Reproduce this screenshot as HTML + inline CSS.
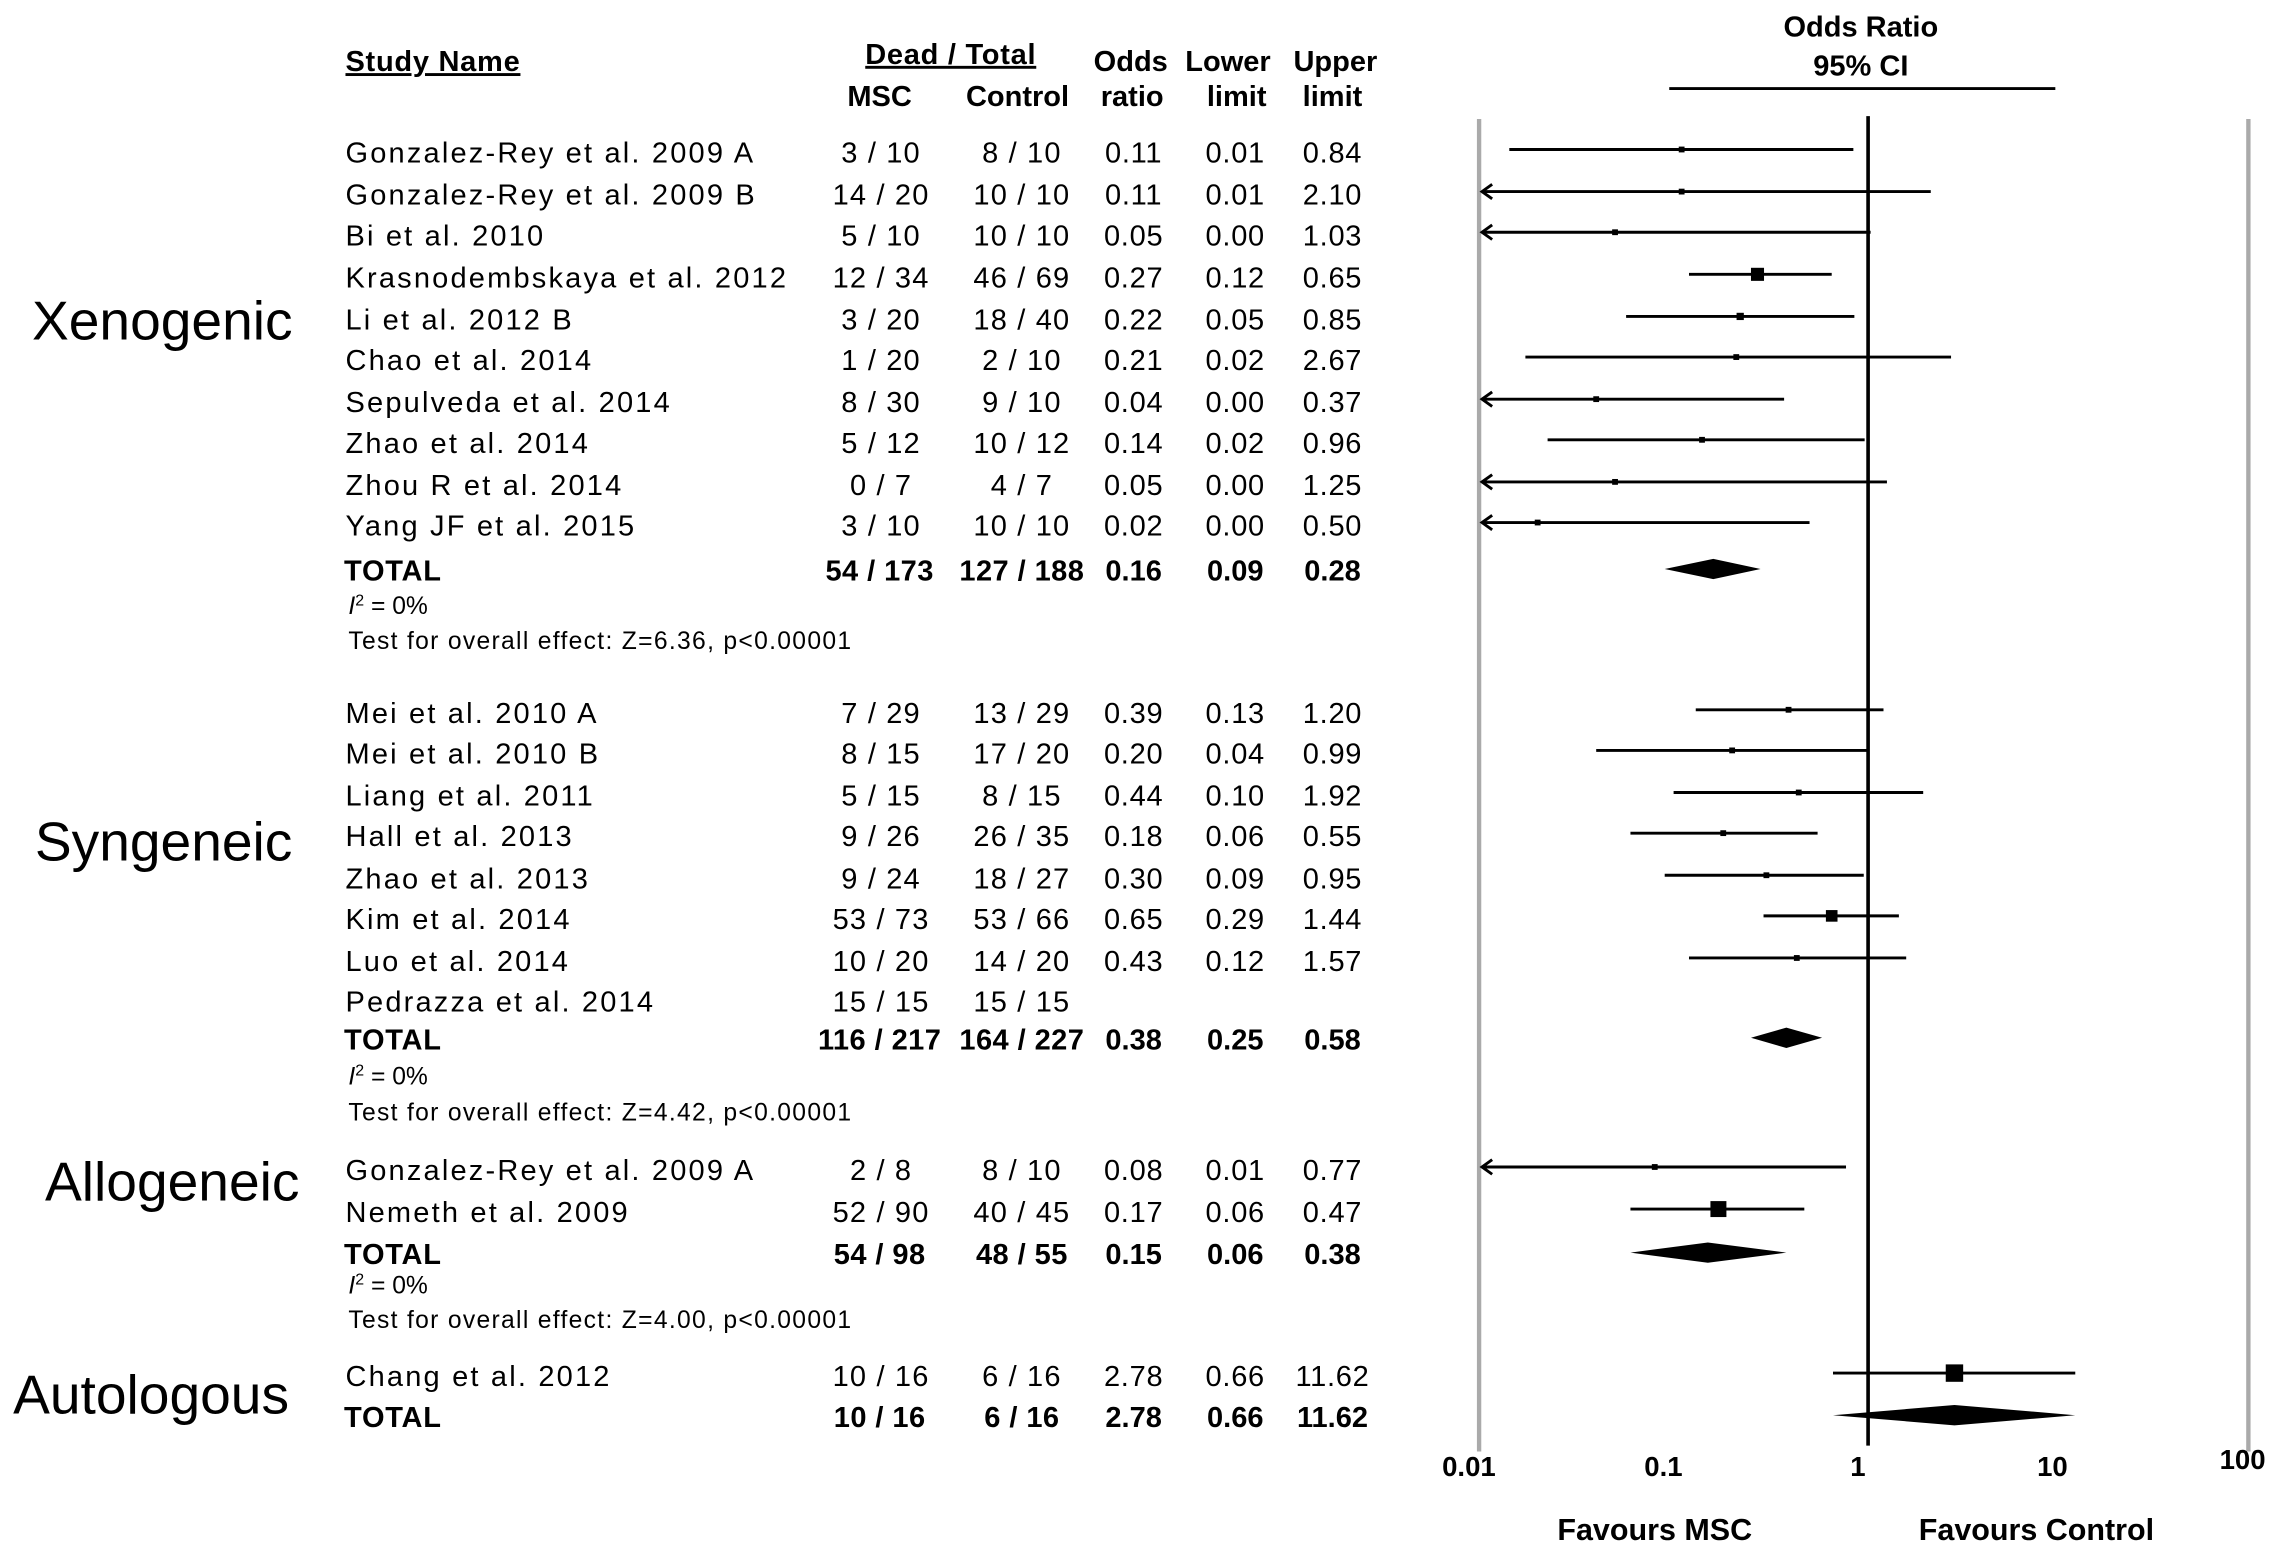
<!DOCTYPE html>
<html><head><meta charset="utf-8"><style>
html,body{margin:0;padding:0;background:#fff;}
svg{display:block;font-family:"Liberation Sans",Arial,sans-serif;}
</style></head><body>
<svg id="chart" width="2276" height="1548" viewBox="0 0 1568 1066.5" xmlns="http://www.w3.org/2000/svg">
<rect x="0" y="0" width="1568" height="1067" fill="#fff"/>
<g font-weight="bold" font-size="20" fill="#000">
<text x="238" y="49" text-decoration="underline" letter-spacing="0.5">Study Name</text>
<text x="655" y="44" text-anchor="middle" text-decoration="underline" letter-spacing="0.5">Dead / Total</text>
<text x="606" y="73" text-anchor="middle">MSC</text>
<text x="701" y="73" text-anchor="middle">Control</text>
<text x="779" y="49" text-anchor="middle">Odds</text>
<text x="780" y="73" text-anchor="middle">ratio</text>
<text x="846" y="49" text-anchor="middle">Lower</text>
<text x="852" y="73" text-anchor="middle">limit</text>
<text x="920" y="49" text-anchor="middle">Upper</text>
<text x="918" y="73" text-anchor="middle">limit</text>
<text x="1282" y="25" text-anchor="middle">Odds Ratio</text>
<text x="1282" y="52" text-anchor="middle">95% CI</text>
</g>
<line x1="1150" y1="61" x2="1416" y2="61" stroke="#000" stroke-width="2"/>
<g id="groups" font-size="38" fill="#000">
<text x="22" y="234">Xenogenic</text>
<text x="24" y="593">Syngeneic</text>
<text x="31" y="827">Allogeneic</text>
<text x="9" y="974">Autologous</text>
</g>
<line x1="1019" y1="82" x2="1019" y2="1000" stroke="#aaa" stroke-width="3"/>
<line x1="1549" y1="82" x2="1549" y2="1000" stroke="#aaa" stroke-width="3"/>
<line x1="1287" y1="80" x2="1287" y2="996" stroke="#000" stroke-width="2.5"/>
<g id="rows"></g>
<g id="marks"></g>
<g id="ticks" font-weight="bold" font-size="19" fill="#000"></g>
<text x="1140" y="1061" text-anchor="middle" font-weight="bold" font-size="21">Favours MSC</text>
<text x="1403" y="1061" text-anchor="middle" font-weight="bold" font-size="21">Favours Control</text>
</svg>
<script>
const studyNames=["Gonzalez-Rey et al. 2009 A","Gonzalez-Rey et al. 2009 B","Bi et al. 2010","Krasnodembskaya et al. 2012","Li et al. 2012 B","Chao et al. 2014","Sepulveda et al. 2014","Zhao et al. 2014","Zhou R et al. 2014","Yang JF et al. 2015","Mei et al. 2010 A","Mei et al. 2010 B","Liang et al. 2011","Hall et al. 2013","Zhao et al. 2013","Kim et al. 2014","Luo et al. 2014","Pedrazza et al. 2014","Gonzalez-Rey et al. 2009 A","Nemeth et al. 2009","Chang et al. 2012"];
const mscText=["3 / 10","14 / 20","5 / 10","12 / 34","3 / 20","1 / 20","8 / 30","5 / 12","0 / 7","3 / 10","7 / 29","8 / 15","5 / 15","9 / 26","9 / 24","53 / 73","10 / 20","15 / 15","2 / 8","52 / 90","10 / 16"];
const ctrlText=["8 / 10","10 / 10","10 / 10","46 / 69","18 / 40","2 / 10","9 / 10","10 / 12","4 / 7","10 / 10","13 / 29","17 / 20","8 / 15","26 / 35","18 / 27","53 / 66","14 / 20","15 / 15","8 / 10","40 / 45","6 / 16"];
const orVals=[0.11,0.11,0.05,0.27,0.22,0.21,0.04,0.14,0.05,0.02,0.39,0.20,0.44,0.18,0.30,0.65,0.43,null,0.08,0.17,2.78];
const lowerVals=[0.0143,0.004,0.003,0.12,0.057,0.0173,0.002,0.0225,0.003,0.001,0.13,0.04,0.10,0.06,0.09,0.29,0.12,null,0.005,0.06,0.66];
const upperVals=[0.84,2.10,1.03,0.65,0.85,2.67,0.37,0.96,1.25,0.50,1.20,0.99,1.92,0.55,0.95,1.44,1.57,null,0.77,0.47,11.62];
const lowerText=["0.01","0.01","0.00","0.12","0.05","0.02","0.00","0.02","0.00","0.00","0.13","0.04","0.10","0.06","0.09","0.29","0.12","","0.01","0.06","0.66"];
const weights=[4,4,4,9,5,4,4,4,4,4,4,4,4,4,4,8,4,0,4,11,12];
const rowY=[105,134,162,191,220,248,277,305,334,362,491,519,548,576,605,633,662,690,806,835,948];
const totalMsc=["54 / 173","116 / 217","54 / 98","10 / 16"];
const totalCtrl=["127 / 188","164 / 227","48 / 55","6 / 16"];
const totalOR=[0.16,0.38,0.15,2.78];
const totalLow=[0.09,0.25,0.06,0.66];
const totalUp=[0.28,0.58,0.38,11.62];
const totalY=[393,716,864,976];
const statI2=["0%","0%","0%"];
const statTest=["Test for overall effect: Z=6.36, p<0.00001","Test for overall effect: Z=4.42, p<0.00001","Test for overall effect: Z=4.00, p<0.00001"];
const statY=[[417,441],[741,766],[885,909]];
const tickVals=[0.01,0.1,1,10,100];
const tickLabels=["0.01","0.1","1","10","100"];

const NS="http://www.w3.org/2000/svg";
const X0=1019,X1=1287,DEC=134;
function xScale(v){return X1+Math.log10(v)*DEC;}
function mk(tag,attrs,parent,text){const e=document.createElementNS(NS,tag);for(const k in attrs)e.setAttribute(k,attrs[k]);if(text!==undefined)e.textContent=text;parent.appendChild(e);return e;}
const rows=document.getElementById('rows'),marks=document.getElementById('marks'),ticks=document.getElementById('ticks');
const fmt=v=>v.toFixed(2);
for(let i=0;i<studyNames.length;i++){
  const y=rowY[i]+7;
  const g=mk('g',{'font-size':'20',fill:'#000'},rows);
  
  
  let t=mk('text',{x:238,y:y,'letter-spacing':'1.5'},g,studyNames[i]);
  
  
  t=mk('text',{x:607,y:y,'text-anchor':'middle','letter-spacing':'0.8'},g,mscText[i]);
  
  
  t=mk('text',{x:704,y:y,'text-anchor':'middle','letter-spacing':'0.8'},g,ctrlText[i]);
  
  
  if(orVals[i]!==null){
    t=mk('text',{x:781,y:y,'text-anchor':'middle','letter-spacing':'0.5'},g,fmt(orVals[i]));
    
    
    t=mk('text',{x:851,y:y,'text-anchor':'middle','letter-spacing':'0.5'},g,lowerText[i]);
    
    
    t=mk('text',{x:918,y:y,'text-anchor':'middle','letter-spacing':'0.5'},g,fmt(upperVals[i]));
    
    
    const ly=rowY[i]-2;
    const arrow=lowerVals[i]<0.01;
    const lx=arrow?X0+2:xScale(lowerVals[i]);
    const ux=xScale(upperVals[i]);
    const ln=mk('line',{x1:lx,y1:ly,x2:ux,y2:ly,stroke:'#000','stroke-width':2},marks);
    
    
    if(arrow){
      const a=mk('polyline',{points:`${X0+9},${ly-5} ${X0+2},${ly} ${X0+9},${ly+5}`,fill:'none',stroke:'#000','stroke-width':2},marks);
      
      
    }
    const w=weights[i];
    const sq=mk('rect',{x:xScale(orVals[i])-w/2,y:ly-w/2,width:w,height:w,fill:'#000'},marks);
    
    
  }
}
for(let j=0;j<totalY.length;j++){
  const y=totalY[j]+7;
  const g=mk('g',{'font-size':'20','font-weight':'bold',fill:'#000'},rows);
  
  
  let t=mk('text',{x:237,y:y,'letter-spacing':'0.5'},g,'TOTAL');
  
  
  t=mk('text',{x:606,y:y,'text-anchor':'middle','letter-spacing':'0.3'},g,totalMsc[j]);
  
  
  t=mk('text',{x:704,y:y,'text-anchor':'middle','letter-spacing':'0.3'},g,totalCtrl[j]);
  
  
  t=mk('text',{x:781,y:y,'text-anchor':'middle'},g,fmt(totalOR[j]));
  
  
  t=mk('text',{x:851,y:y,'text-anchor':'middle'},g,fmt(totalLow[j]));
  
  
  t=mk('text',{x:918,y:y,'text-anchor':'middle'},g,fmt(totalUp[j]));
  
  
  const dy=totalY[j]-1,cx=xScale(totalOR[j]),lx=xScale(totalLow[j]),ux=xScale(totalUp[j]);
  const d=mk('polygon',{points:`${lx},${dy} ${cx},${dy-7} ${ux},${dy} ${cx},${dy+7}`,fill:'#000'},marks);
  
  
}
for(let k=0;k<statTest.length;k++){
  const g=mk('g',{'font-size':'17',fill:'#000'},rows);
  
  
  const t=mk('text',{x:240,y:statY[k][0]+6},g);
  
  
  mk('tspan',{'font-style':'italic'},t,'I');
  mk('tspan',{'font-size':'11',dy:'-6'},t,'2');
  mk('tspan',{dy:'6'},t,' = '+statI2[k]);
  const t2=mk('text',{x:240,y:statY[k][1]+6,'letter-spacing':'0.9'},g,statTest[k]);
  
  
}
for(let i=0;i<tickVals.length;i++){
  const x=Math.min(xScale(tickVals[i])-7,1545);
  const t=mk('text',{x:x,y:tickVals[i]===100?1012:1017,'text-anchor':'middle'},ticks,tickLabels[i]);
  
  
}
</script>
</body></html>
